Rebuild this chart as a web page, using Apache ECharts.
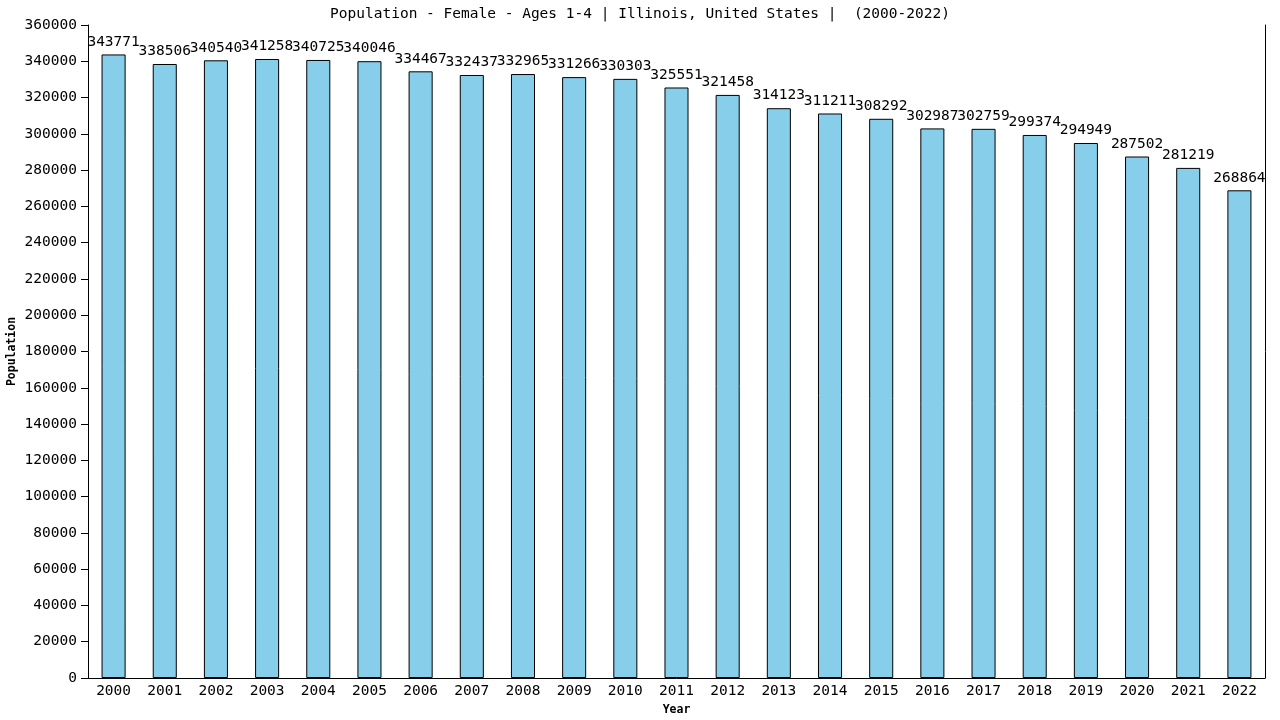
<!DOCTYPE html>
<html>
<head>
<meta charset="utf-8">
<script src="https://cdn.jsdelivr.net/npm/echarts@6/dist/echarts.min.js"></script>
<style>
  html, body { margin: 0; padding: 0; background: #fff; }
  #chart { width: 1280px; height: 720px; }
</style>
</head>
<body>
<div id="chart"></div>
<script>
const years = [
  "2000", "2001", "2002", "2003", "2004", "2005", "2006", "2007",
  "2008", "2009", "2010", "2011", "2012", "2013", "2014", "2015",
  "2016", "2017", "2018", "2019", "2020", "2021", "2022",
];
const population = [
  343771, 338506, 340540, 341258, 340725, 340046, 334467, 332437,
  332965, 331266, 330303, 325551, 321458, 314123, 311211, 308292,
  302987, 302759, 299374, 294949, 287502, 281219, 268864,
];

const mono = "DejaVu Sans Mono";
const chart = echarts.init(document.getElementById("chart"));

chart.setOption({
  animation: false,
  title: {
    text: "Population - Female - Ages 1-4 | Illinois, United States |  (2000-2022)",
    left: "center",
    top: 2,
    textStyle: { fontFamily: mono, fontSize: 14.5, fontWeight: "normal", color: "#000" },
  },
  grid: { left: 88, right: 15, top: 25, bottom: 42, outerBoundsMode: "none", containLabel: false },
  xAxis: {
    type: "category",
    data: years,
    name: "Year",
    nameLocation: "middle",
    nameGap: 26,
    nameMoveOverlap: false,
    nameTextStyle: { fontFamily: mono, fontSize: 11.5, fontWeight: "bold", color: "#000" },
    axisLine: { lineStyle: { color: "#000" } },
    axisTick: { show: false },
    axisLabel: { fontFamily: mono, fontSize: 14.5, color: "#000", margin: 6 },
  },
  yAxis: [
    {
      type: "value",
      min: 0,
      max: 360000,
      interval: 20000,
      name: "Population",
      nameLocation: "middle",
      nameGap: 70,
      nameMoveOverlap: false,
      nameTextStyle: { fontFamily: mono, fontSize: 11.5, fontWeight: "bold", color: "#000" },
      axisLine: { show: true, lineStyle: { color: "#000" } },
      axisTick: { show: true, length: 7, lineStyle: { color: "#000" } },
      axisLabel: {
        fontFamily: mono,
        fontSize: 14.5,
        color: "#000",
        margin: 11,
        formatter: function (v) { return String(v); },
      },
      splitLine: { show: false },
    },
    {
      type: "value",
      min: 0,
      max: 360000,
      interval: 20000,
      position: "right",
      axisLine: { show: true, lineStyle: { color: "#000" } },
      axisTick: { show: false },
      axisLabel: { show: false },
      splitLine: { show: false },
    },
  ],
  series: [
    {
      type: "bar",
      data: population,
      barWidth: "47%",
      itemStyle: { color: "#87ceeb", borderColor: "#000", borderWidth: 1 },
      label: {
        show: true,
        position: "top",
        distance: 5,
        fontFamily: mono,
        fontSize: 14.5,
        color: "#000",
      },
    },
  ],
});
</script>
</body>
</html>
